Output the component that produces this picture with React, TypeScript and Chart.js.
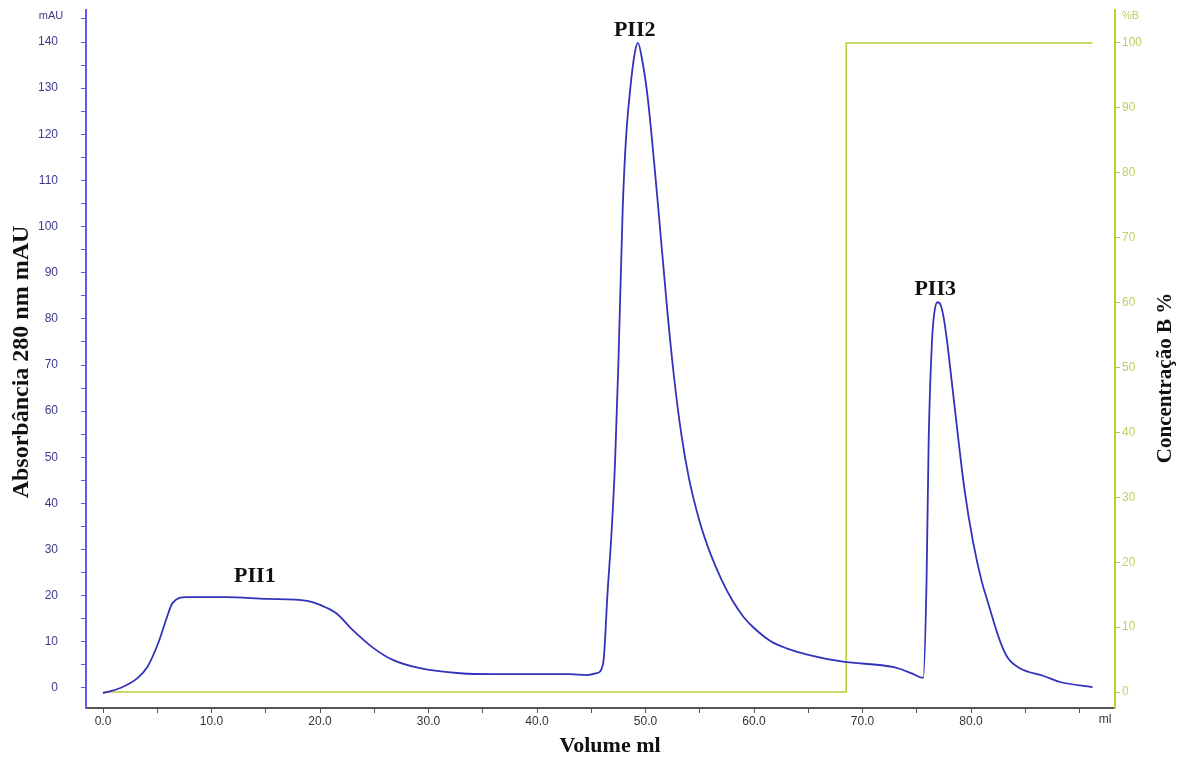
import React, { useEffect, useRef } from 'react';
import { Chart, registerables } from 'chart.js';

Chart.register(...registerables);

// Chromatogram: elution volume (ml) vs absorbance at 280 nm (mAU)
const volumeMl = [
  0, 1.6, 3.2, 4.1, 5.1, 5.9, 6.4, 7.7, 11.4, 15.1, 18.8, 20.0, 21.5, 23.0, 24.9, 26.7, 29.2, 32.9, 36.0, 40.0,
  43.0, 44.6, 45.5, 46.1, 46.5, 46.9, 47.2, 47.5, 47.9, 48.2, 48.6, 49.0, 49.3, 49.7, 50.2, 51.1, 52.0, 52.6,
  53.3, 54.0, 55.0, 56.0, 57.0, 58.0, 59.0, 60.0, 61.5, 63.0, 65.0, 68.2, 72.9, 74.6, 75.6, 75.9, 76.1, 76.4,
  76.6, 76.9, 77.2, 77.5, 77.8, 78.1, 78.7, 79.4, 80.2, 81.0, 81.5, 82.7, 83.4, 84.5, 86.7, 88.2, 91.2,
];
const absorbanceMau = [
  -1.1, 0.0, 2.2, 4.6, 9.8, 15.4, 18.4, 19.7, 19.7, 19.3, 18.9, 18.0, 16.2, 12.6, 8.7, 6.1, 4.3, 3.2, 3.0, 3.0,
  3.0, 2.8, 3.2, 5.4, 20.6, 34.9, 49.4, 70.4, 104, 119, 130, 137.5, 139.8, 136, 128, 106, 82, 68,
  55, 45.5, 36, 29, 23.5, 19, 15.5, 13, 10.2, 8.6, 7.2, 5.7, 4.5, 3.1, 2.2, 23, 54, 75,
  81, 83.6, 83, 80, 75, 69, 56.6, 43, 31.5, 23, 19, 10, 6.5, 4.3, 2.6, 1.3, 0.2,
];

// Gradient: concentration of buffer B (%)
const gradientVolumeMl = [0, 68.5, 68.5, 91.2];
const gradientB = [0, 0, 100, 100];

// Axis ticks
const xTickValues = [0, 5, 10, 15, 20, 25, 30, 35, 40, 45, 50, 55, 60, 65, 70, 75, 80, 85, 90];
const xLabelValues = [0, 10, 20, 30, 40, 50, 60, 70, 80];
const leftTickValues = [
  0, 5, 10, 15, 20, 25, 30, 35, 40, 45, 50, 55, 60, 65, 70, 75, 80, 85, 90, 95, 100, 105, 110, 115, 120, 125,
  130, 135, 140, 145,
];
const rightTickValues = [0, 10, 20, 30, 40, 50, 60, 70, 80, 90, 100];

// Peak annotations
const peakNames = ['PII1', 'PII2', 'PII3'];
const peakLabelX = [14.0, 49.0, 76.7];
const peakLabelY = [24.1, 142.6, 86.3];

const BLUE_LINE = '#3232bd';
const BLUE_AXIS = '#5c5ce8';
const BLUE_TEXT = '#3c3c8a';
const GREEN_LINE = '#bccb3a';
const GREEN_TEXT = '#c3cd66';
const GRAY_AXIS = '#555555';
const SANS = '"Liberation Sans", Arial, sans-serif';
const SERIF = '"Liberation Serif", "Times New Roman", serif';

const textPlugin = {
  id: 'chromText',
  afterDraw(chart: any) {
    const { ctx, scales } = chart;
    ctx.save();
    // Peak labels
    ctx.font = `bold 22px ${SERIF}`;
    ctx.fillStyle = '#111111';
    ctx.textAlign = 'center';
    ctx.textBaseline = 'middle';
    peakNames.forEach((name, i) => {
      ctx.fillText(name, scales.x.getPixelForValue(peakLabelX[i]), scales.y.getPixelForValue(peakLabelY[i]));
    });

    // Unit labels
    ctx.font = `11px ${SANS}`;
    ctx.fillStyle = BLUE_TEXT;
    ctx.textAlign = 'center';
    ctx.fillText('mAU', 51, 16);
    ctx.fillStyle = GREEN_TEXT;
    ctx.textAlign = 'left';
    ctx.fillText('%B', 1122, 16);
    ctx.fillStyle = '#333333';
    ctx.textAlign = 'center';
    ctx.font = `12px ${SANS}`;
    ctx.fillText('ml', 1105, 720);

    // Axis titles
    ctx.fillStyle = '#111111';
    ctx.font = `bold 22px ${SERIF}`;
    ctx.textAlign = 'center';
    ctx.fillText('Volume ml', 610, 746);

    ctx.save();
    ctx.font = `bold 24px ${SERIF}`;
    ctx.translate(22, 362);
    ctx.rotate(-Math.PI / 2);
    ctx.fillText('Absorbância 280 nm mAU', 0, 0);
    ctx.restore();

    ctx.save();
    ctx.font = `bold 21px ${SERIF}`;
    ctx.translate(1166, 378);
    ctx.rotate(-Math.PI / 2);
    ctx.fillText('Concentração B %', 0, 0);
    ctx.restore();

    ctx.restore();
  },
};

const noPadding = (s: any) => {
  s.paddingTop = 0;
  s.paddingBottom = 0;
};

export default function App() {
  const canvasRef = useRef<HTMLCanvasElement | null>(null);

  useEffect(() => {
    const canvas = canvasRef.current;
    if (!canvas) return;
    const chart = new Chart(canvas, {
      type: 'line',
      data: {
        datasets: [
          {
            label: 'Absorbância 280 nm',
            data: volumeMl.map((x, i) => ({ x, y: absorbanceMau[i] })),
            yAxisID: 'y',
            borderColor: BLUE_LINE,
            borderWidth: 1.8,
            pointRadius: 0,
            cubicInterpolationMode: 'monotone',
            fill: false,
          },
          {
            label: 'Concentração B',
            data: gradientVolumeMl.map((x, i) => ({ x, y: gradientB[i] })),
            yAxisID: 'y1',
            borderColor: GREEN_LINE,
            borderWidth: 1.6,
            pointRadius: 0,
            tension: 0,
            fill: false,
          },
        ],
      },
      options: {
        animation: false,
        responsive: false,
        layout: { padding: { top: 10, left: 0, right: 0, bottom: 0 } },
        plugins: {
          legend: { display: false },
          tooltip: { enabled: false },
          title: { display: false },
        },
        scales: {
          x: {
            type: 'linear',
            position: 'bottom',
            min: -1.567,
            max: 93.27,
            afterFit: (s: any) => {
              s.height = 52;
              s.paddingLeft = 0;
              s.paddingRight = 0;
            },
            afterBuildTicks: (s: any) => {
              s.ticks = xTickValues.map((v) => ({ value: v }));
            },
            ticks: {
              autoSkip: false,
              maxRotation: 0,
              padding: 1,
              color: '#333333',
              font: { family: SANS, size: 12 },
              callback: (v: any) => (xLabelValues.includes(Number(v)) ? Number(v).toFixed(1) : ''),
            },
            grid: { drawOnChartArea: false, drawTicks: true, tickLength: 5, color: GRAY_AXIS, lineWidth: 1 },
            border: { display: true, color: GRAY_AXIS, width: 2 },
          },
          y: {
            type: 'linear',
            position: 'left',
            min: -4.335,
            max: 146.94,
            afterFit: (s: any) => {
              s.width = 86;
              noPadding(s);
            },
            afterBuildTicks: (s: any) => {
              s.ticks = leftTickValues.map((v) => ({ value: v }));
            },
            ticks: {
              autoSkip: false,
              padding: 23,
              color: BLUE_TEXT,
              font: { family: SANS, size: 12 },
              callback: (v: any) => (Number(v) % 10 === 0 ? String(v) : ''),
            },
            grid: { drawOnChartArea: false, drawTicks: true, tickLength: 5, color: BLUE_AXIS, lineWidth: 1 },
            border: { display: true, color: BLUE_AXIS, width: 2 },
          },
          y1: {
            type: 'linear',
            position: 'right',
            min: -2.465,
            max: 105.08,
            afterFit: (s: any) => {
              s.width = 71;
              noPadding(s);
            },
            afterBuildTicks: (s: any) => {
              s.ticks = rightTickValues.map((v) => ({ value: v }));
            },
            ticks: {
              autoSkip: false,
              padding: 2,
              color: GREEN_TEXT,
              font: { family: SANS, size: 12 },
              callback: (v: any) => String(v),
            },
            grid: { drawOnChartArea: false, drawTicks: true, tickLength: 5, color: GREEN_LINE, lineWidth: 1 },
            border: { display: true, color: GREEN_LINE, width: 2 },
          },
        },
      },
      plugins: [textPlugin],
    } as any);
    return () => chart.destroy();
  }, []);

  return (
    <div style={{ position: 'fixed', left: 0, top: 0, width: 1186, height: 760, background: '#ffffff' }}>
      <canvas ref={canvasRef} width={1186} height={760} />
    </div>
  );
}
